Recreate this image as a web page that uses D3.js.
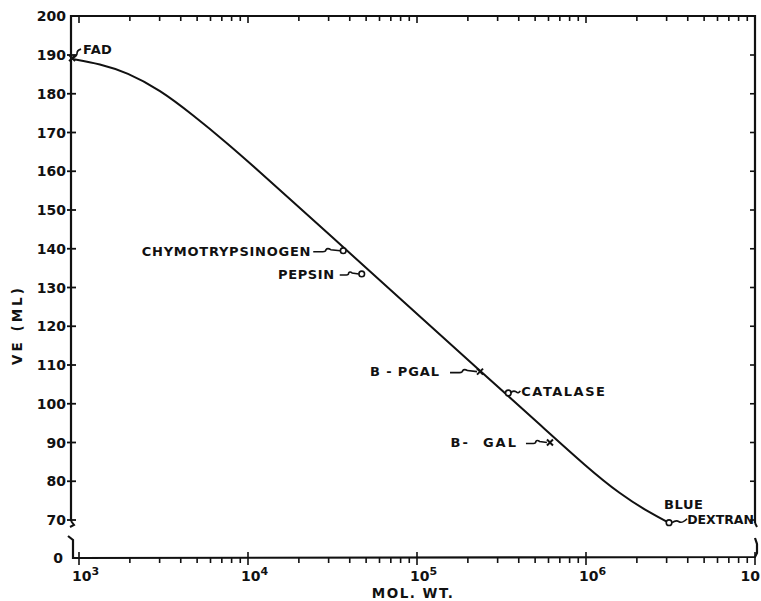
<!DOCTYPE html>
<html><head><meta charset="utf-8">
<script src="https://cdn.jsdelivr.net/npm/d3@7/dist/d3.min.js"></script>
<style>
html,body{margin:0;padding:0;background:#fff;}
svg{display:block;}
text{font-family:"DejaVu Sans",sans-serif;font-weight:bold;fill:#111;}
</style></head>
<body>
<svg id="chart" width="761" height="601"></svg>
<script>
// ---- data ----
const proteinNames = ["FAD", "CHYMOTRYPSINOGEN", "PEPSIN", "B - PGAL", "CATALASE", "B-  GAL", "BLUE DEXTRAN"];
const proteinMW = [910, 36600, 47100, 236000, 347000, 612000, 3100000];
const proteinVE = [189.2, 139.5, 133.5, 108.3, 102.8, 90.0, 69.3];
const proteinMarker = ["x", "o", "o", "x", "o", "x", "o"];

const curveMW = [909, 1332, 1923, 3013, 4728, 7516, 11780, 18460, 29320, 79250, 236000, 534600, 1014000, 1589000, 2393000, 3098000];
const curveVE = [189.0, 187.7, 185.5, 181.0, 174.5, 167.3, 159.8, 152.1, 144.2, 127.2, 108.5, 94.6, 83.6, 76.7, 71.8, 69.3];

const yTickValues = [70, 80, 90, 100, 110, 120, 130, 140, 150, 160, 170, 180, 190, 200];
const yZeroLabel = "0";
const xDecadeExps = [3, 4, 5, 6];
const xLastDecadeLabel = "10";
const xTitle = "MOL. WT.";
const yTitle = "VE (ML)";

(function () {
// ---- layout ----
const svg = d3.select("#chart");
const pL = 71, pR = 755, pT = 16, pB = 558;
const x = d3.scaleLog().domain([1e3, 1e7]).range([79, 755]);
const y = d3.scaleLinear().domain([70, 200]).range([520, 16.25]);

const ink = "#111";
const g = svg.append("g");

// frame with axis breaks
const frame = d3.path();
frame.moveTo(pL, 521); frame.lineTo(pL, pT); frame.lineTo(pR, pT); frame.lineTo(pR, 523);
g.append("path").attr("d", frame.toString()).attr("fill", "none").attr("stroke", ink).attr("stroke-width", 2.2);
g.append("path").attr("d", `M${pL},521 L${pL+3},525 L${pL-1},527`).attr("fill","none").attr("stroke",ink).attr("stroke-width",2);
g.append("path").attr("d", `M${pL-3},536 L${pL+2},540 L${pL+2},${pB} L${pR},${pB-1} L${pR+2},${pB-5} L${pR+2},${pB-14} L${pR},${pB-20}`).attr("fill","none").attr("stroke",ink).attr("stroke-width",2.2);
g.append("path").attr("d", `M${pR},523 L${pR+2},527`).attr("fill","none").attr("stroke",ink).attr("stroke-width",2);

// y ticks (left crossing, right inward)
yTickValues.forEach(v => {
  const yy = y(v);
  if (v < 200) {
    g.append("line").attr("x1", pL - 4).attr("x2", pL + 5).attr("y1", yy).attr("y2", yy).attr("stroke", ink).attr("stroke-width", 1.8);
    g.append("line").attr("x1", pR - 5).attr("x2", pR).attr("y1", yy).attr("y2", yy).attr("stroke", ink).attr("stroke-width", 1.6);
  }
  g.append("text").attr("x", pL - 5).attr("y", yy).attr("dy", "0.36em").attr("text-anchor", "end")
    .attr("font-size", 14).text(v);
});
g.append("text").attr("x", 63).attr("y", pB).attr("dy", "0.36em").attr("text-anchor", "end").attr("font-size", 14).text(yZeroLabel);

// x ticks (log)
const xTicks = x.ticks();
xTicks.forEach(t => {
  const xx = x(t);
  const major = Math.abs(Math.log10(t) - Math.round(Math.log10(t))) < 1e-9;
  g.append("line").attr("x1", xx).attr("x2", xx)
    .attr("y1", major ? pB - 6 : pB).attr("y2", major ? pB + 7 : pB + 5)
    .attr("stroke", ink).attr("stroke-width", 1.6);
  if (t < 1e7) {
    g.append("line").attr("x1", xx).attr("x2", xx).attr("y1", pT).attr("y2", pT + (major ? 7 : 5))
      .attr("stroke", ink).attr("stroke-width", 1.6);
  }
});

xDecadeExps.forEach(e => {
  const t = g.append("text").attr("x", x(Math.pow(10, e)) - 7).attr("y", 581).attr("font-size", 14);
  t.append("tspan").text("10");
  t.append("tspan").attr("font-size", 11).attr("dy", -6).text(e);
});
// last decade label is clipped by the page edge in the reference: only "10" shows
g.append("text").attr("x", 760).attr("y", 581).attr("text-anchor", "end").attr("font-size", 14).text(xLastDecadeLabel);

// axis titles
g.append("text").attr("x", 413).attr("y", 598).attr("text-anchor", "middle").attr("font-size", 13.5)
  .attr("letter-spacing", 1.5).text(xTitle);
g.append("text").attr("transform", "translate(22,325) rotate(-90)").attr("text-anchor", "middle")
  .attr("font-size", 13.5).attr("letter-spacing", 3).text(yTitle);

// calibration curve
const curvePts = curveMW.map((m, i) => [x(m), y(curveVE[i])]);
g.append("path").attr("d", d3.line().curve(d3.curveBasis)(curvePts))
  .attr("fill", "none").attr("stroke", ink).attr("stroke-width", 2);

// markers
proteinMW.forEach((m, i) => {
  const px = x(m), py = y(proteinVE[i]);
  if (proteinMarker[i] === "o") {
    g.append("circle").attr("cx", px).attr("cy", py).attr("r", 2.8).attr("fill", "#fff").attr("stroke", ink).attr("stroke-width", 1.6);
  } else {
    g.append("path").attr("d", `M${px-3},${py-3}L${px+3},${py+3}M${px-3},${py+3}L${px+3},${py-3}`)
      .attr("stroke", ink).attr("stroke-width", 2);
  }
});

// labels + wavy leaders (offsets in pixels from each marker)
function wave(x0, x1, yy) {
  const a = x0 + (x1 - x0) * 0.35, s = (x1 - x0) * 0.12;
  return `M${x0},${yy + 1}L${a},${yy + 1}Q${a + s},${yy + 1} ${a + s},${yy - 1}Q${a + s * 1.5},${yy - 3} ${a + 2.5 * s},${yy - 1}L${x1},${yy}`;
}
const labelLayout = {
  "FAD": {anchor: "start", dx: 11, dy: -4, leader: (px, py) => `M${px+1},${py} Q${px+5},${py-2} ${px+5},${py-5} Q${px+5},${py-8} ${px+9},${py-9}`},
  "CHYMOTRYPSINOGEN": {anchor: "end", dx: -32, dy: 5, spacing: 0.75, leader: (px, py) => wave(px - 30, px - 3, py)},
  "PEPSIN": {anchor: "end", dx: -27, dy: 5, spacing: 0.6, leader: (px, py) => wave(px - 22, px - 3, py)},
  "B - PGAL": {anchor: "end", dx: -40, dy: 4, spacing: 0.9, leader: (px, py) => wave(px - 30, px - 3, py)},
  "CATALASE": {anchor: "start", dx: 13, dy: 3, spacing: 1.5, leader: (px, py) => `M${px+2},${py} Q${px+5},${py-3} ${px+8},${py-1} Q${px+10},${py+1} ${px+12},${py-2}`},
  "B-  GAL": {anchor: "end", dx: -32, dy: 4, spacing: 2.0, leader: (px, py) => wave(px - 24, px - 3, py)}
};
proteinNames.forEach((name, i) => {
  const px = x(proteinMW[i]), py = y(proteinVE[i]);
  if (name === "BLUE DEXTRAN") {
    const parts = name.split(" ");
    g.append("text").attr("x", px - 5).attr("y", py - 14).attr("font-size", 13).attr("letter-spacing", 0.6).text(parts[0]);
    g.append("text").attr("x", 754).attr("y", py + 1).attr("text-anchor", "end").attr("font-size", 12.5).attr("letter-spacing", 0).text(parts[1]);
    g.append("path").attr("d", `M${px+3},${py} Q${px+7},${py-3} ${px+10},${py-1} Q${px+13},${py+1} ${px+18},${py-4}`)
      .attr("fill", "none").attr("stroke", ink).attr("stroke-width", 1.6);
    return;
  }
  const L = labelLayout[name];
  g.append("path").attr("d", L.leader(px, py)).attr("fill", "none").attr("stroke", ink).attr("stroke-width", 1.6);
  g.append("text").attr("x", px + L.dx).attr("y", py + L.dy).attr("text-anchor", L.anchor)
    .attr("font-size", 13).attr("letter-spacing", L.spacing || 0.3).style("white-space", "pre").text(name);
});
})();
</script>
</body></html>
